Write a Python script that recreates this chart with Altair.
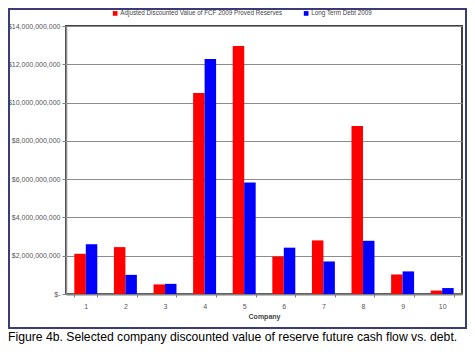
import altair as alt
import pandas as pd

companies = ["1", "2", "3", "4", "5", "6", "7", "8", "9", "10"]
series_names = ["Adjusted Discounted  Value of FCF  2009 Proved Reserves", "Long Term Debt 2009"]
fcf_values = [2.1e9, 2.45e9, 0.5e9, 10.5e9, 12.95e9, 1.96e9, 2.8e9, 8.78e9, 1.02e9, 0.18e9]
debt_values = [2.6e9, 1.0e9, 0.53e9, 12.27e9, 5.82e9, 2.42e9, 1.7e9, 2.78e9, 1.18e9, 0.31e9]
y_ticks = [0, 2e9, 4e9, 6e9, 8e9, 10e9, 12e9, 14e9]
caption = "Figure 4b. Selected company discounted value of reserve future cash flow vs. debt."
x_title = "Company"

rows = []
for c, f, d in zip(companies, fcf_values, debt_values):
    rows.append({"company": c, "series": series_names[0], "value": f})
    rows.append({"company": c, "series": series_names[1], "value": d})
df = pd.DataFrame(rows)

FONT = "Liberation Sans Narrow, Liberation Sans"
W, H = 396, 268

bars = alt.Chart(df).mark_bar().encode(
    x=alt.X("company:N", sort=companies,
            scale=alt.Scale(paddingInner=0.42, paddingOuter=0.21),
            axis=alt.Axis(title=x_title, labelAngle=0, tickBand="extent", tickSize=3,
                          tickColor="#808080", labelPadding=5, labelFontSize=7,
                          labelFont=FONT, labelColor="#555555", titleFont=FONT,
                          titleFontSize=7, titleFontWeight="bold", titleColor="#444444",
                          titlePadding=3, domainColor="#808080", domainWidth=2)),
    xOffset=alt.XOffset("series:N", sort=series_names),
    y=alt.Y("value:Q", scale=alt.Scale(domain=[0, 14e9], nice=False),
            axis=alt.Axis(title=None, values=y_ticks,
                          labelExpr="datum.value == 0 ? '$-' : '$' + format(datum.value, ',')",
                          labelFontSize=7, labelFont=FONT, labelColor="#555555",
                          tickSize=4, tickColor="#808080", labelPadding=2,
                          gridColor="#8c8c8c", gridWidth=1,
                          domainColor="#8c8c8c", domainWidth=1.5)),
    color=alt.Color("series:N", sort=series_names,
                    scale=alt.Scale(domain=series_names, range=["#ff0000", "#0000ff"]),
                    legend=alt.Legend(title=None, orient="none", legendX=46, legendY=-16,
                                      direction="horizontal", symbolType="square",
                                      symbolSize=22, symbolStrokeWidth=0,
                                      labelFontSize=6.3, labelFont=FONT, labelLimit=400,
                                      labelColor="#444444", columnPadding=17,
                                      labelOffset=2)),
)

frame_df = pd.DataFrame({"k": [0]})
border = alt.Chart(frame_df).mark_rect(filled=False, stroke="#3b3b78", strokeWidth=2).encode(
    x=alt.value(-57), x2=alt.value(400), y=alt.value(-17), y2=alt.value(302)
)
cap = alt.Chart(frame_df).mark_text(align="left", baseline="alphabetic",
                                    font="Liberation Sans", fontSize=12.2,
                                    color="#000000").encode(
    x=alt.value(-58), y=alt.value(315), text=alt.value(caption)
)

chart = alt.layer(bars, border, cap).properties(
    width=W, height=H,
    autosize=alt.AutoSizeParams(type="none"),
    padding={"left": 58, "top": 18, "right": 5, "bottom": 51},
    background="white",
).configure_view(stroke="#404040", strokeWidth=2)

chart.save("out.html", embed_options={"renderer": "svg", "actions": False})
